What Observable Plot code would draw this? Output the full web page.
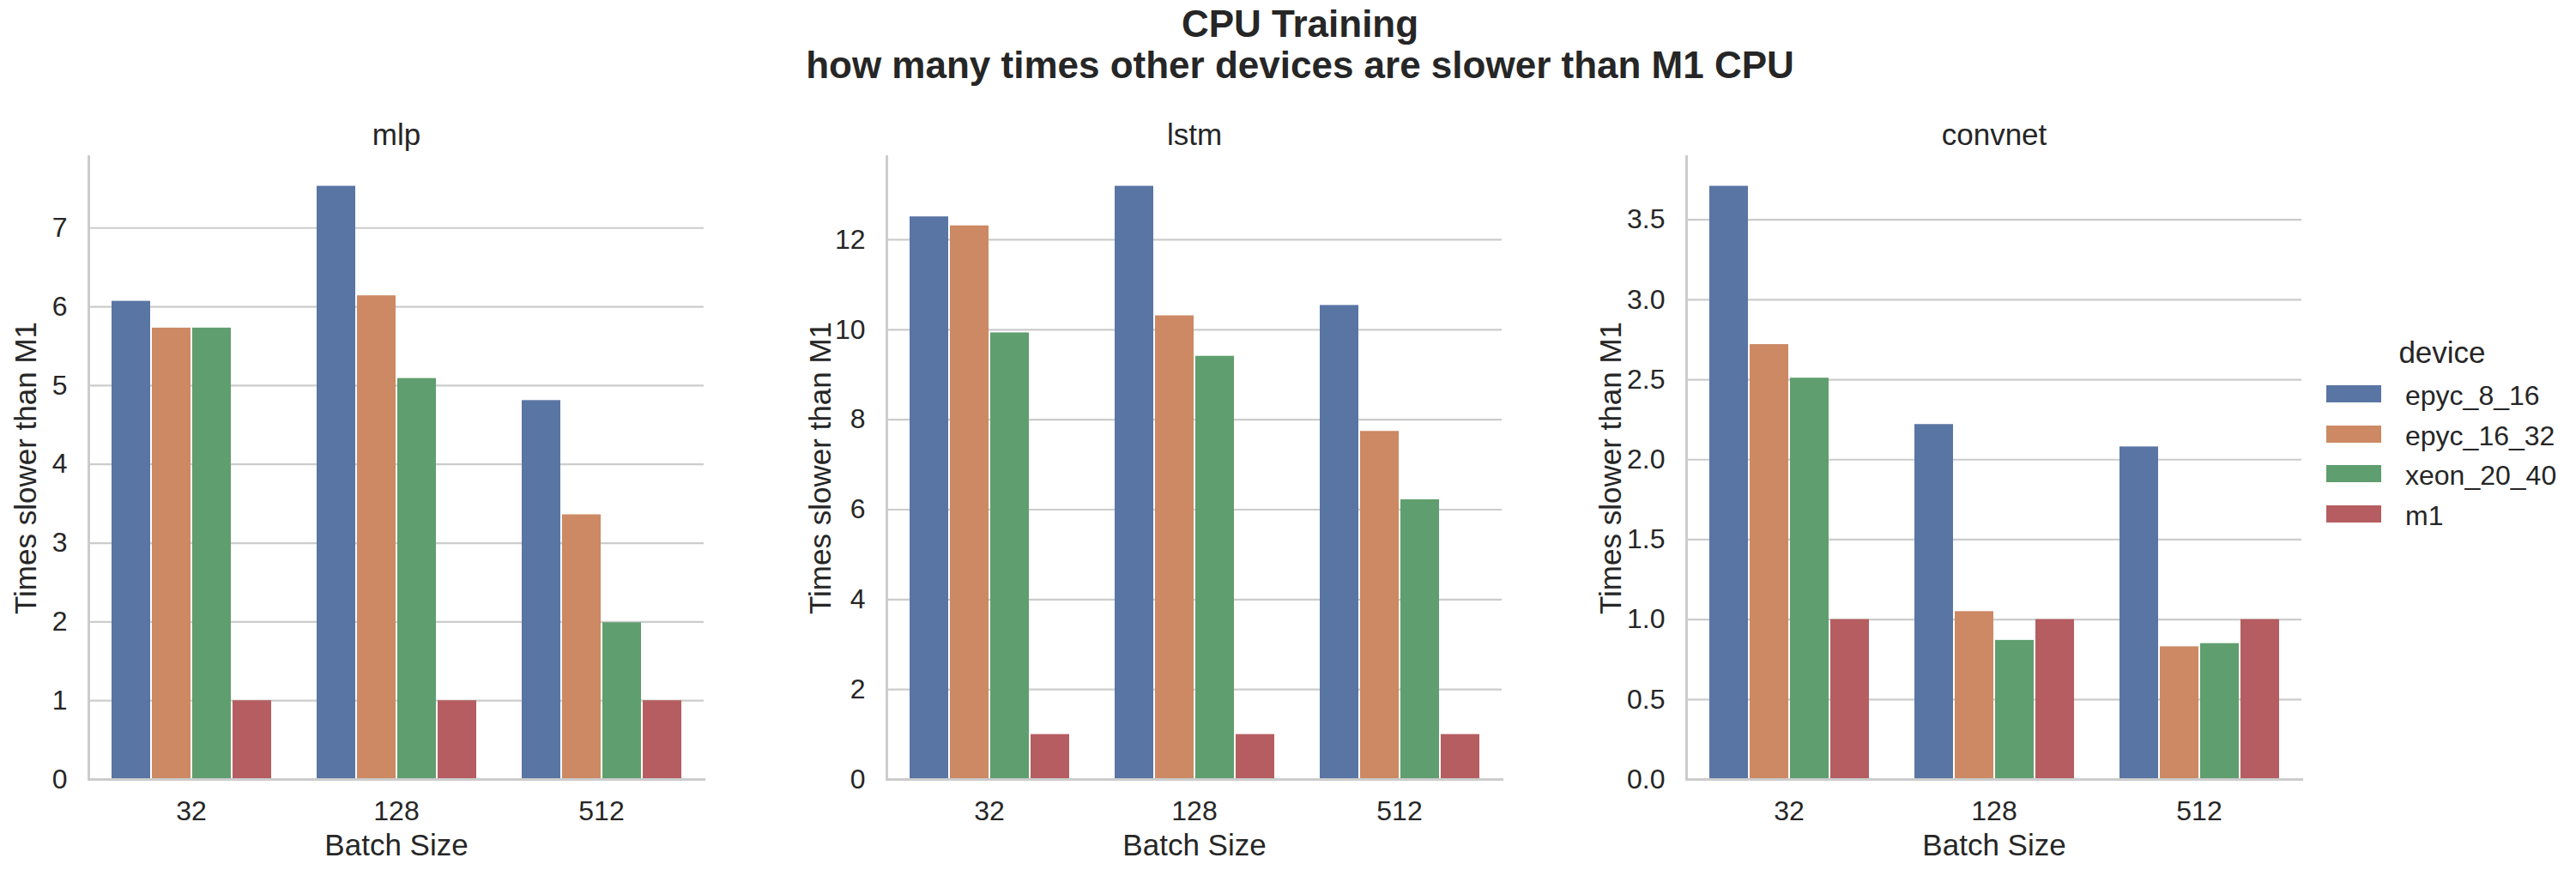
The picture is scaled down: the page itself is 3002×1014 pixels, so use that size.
<!DOCTYPE html>
<html><head><meta charset="utf-8">
<script src="https://cdn.jsdelivr.net/npm/d3@7"></script>
<script src="https://cdn.jsdelivr.net/npm/@observablehq/plot@0.6"></script>
<style>
html,body{margin:0;padding:0;background:#fff;overflow:hidden;}
#root{position:relative;width:3002px;height:1014px;font-family:"Liberation Sans",Arial,sans-serif;color:#262626;}
.abs{position:absolute;}
</style></head><body><div id="root"></div>
<script>
// ---- data ----
const models = ["mlp", "lstm", "convnet"];
const batchSizes = ["32", "128", "512"];
const devices = ["epyc_8_16", "epyc_16_32", "xeon_20_40", "m1"];
const deviceColors = ["#5975a4", "#cc8963", "#5f9e6e", "#b55d60"];
// rows: batch size (32, 128, 512); columns: device
const mlpValues = [[6.07, 5.73, 5.73, 1.00], [7.53, 6.14, 5.09, 1.00], [4.81, 3.36, 1.99, 1.00]];
const lstmValues = [[12.51, 12.31, 9.93, 1.00], [13.19, 10.31, 9.41, 1.00], [10.54, 7.74, 6.22, 1.00]];
const convnetValues = [[3.71, 2.72, 2.51, 1.00], [2.22, 1.05, 0.87, 1.00], [2.08, 0.83, 0.85, 1.00]];
const mlpTicks = [0, 1, 2, 3, 4, 5, 6, 7];
const lstmTicks = [0, 2, 4, 6, 8, 10, 12];
const convnetTicks = [0, 0.5, 1, 1.5, 2, 2.5, 3, 3.5];
const titleLines = ["CPU Training", "how many times other devices are slower than M1 CPU"];
const xLabel = "Batch Size";
const yLabel = "Times slower than M1";
const legendTitle = "device";

// ---- layout ----
const root = document.getElementById("root");
const ML = 100, MR = 20, MT = 82, MB = 106, FW = 717;
const W = ML + FW + MR, H = 914, TOP = 100;
const panelLefts = [103, 1033, 1965];
const yLabelOffsets = [73, 77, 88];
const GRID = "#cccccc";
const baseStyle = {background: "transparent", color: "#262626", fontFamily: "Liberation Sans, Arial, sans-serif", fontSize: "32px", overflow: "visible"};

function place(el, left, top, w, h) {
  const d = document.createElement("div");
  d.className = "abs";
  d.style.left = left + "px"; d.style.top = top + "px";
  d.style.width = w + "px"; d.style.height = h + "px";
  d.appendChild(el);
  root.appendChild(d);
}

function panel(i, values, ticks, fmt) {
  const rows = [];
  batchSizes.forEach((b, bi) => devices.forEach((dv, di) => rows.push({batch: b, device: dv, value: values[bi][di]})));
  const ymax = d3.max(rows, r => r.value) * 1.05;
  const common = {width: W, height: H, marginLeft: ML, marginRight: MR, marginTop: MT, marginBottom: MB, style: baseStyle};
  const back = Plot.plot({
    ...common,
    y: {domain: [0, ymax]},
    marks: [
      Plot.gridY(ticks, {stroke: GRID, strokeOpacity: 1, strokeWidth: 2.2}),
      Plot.frame({anchor: "left", stroke: GRID, strokeOpacity: 1, strokeWidth: 3}),
      Plot.frame({anchor: "bottom", stroke: GRID, strokeOpacity: 1, strokeWidth: 3}),
      Plot.axisY(ticks, {tickSize: 0, tickPadding: 25, tickFormat: fmt, label: null, fontSize: 32}),
      Plot.text([models[i]], {text: d => d, frameAnchor: "top", lineAnchor: "bottom", dy: -14, fontSize: 35}),
      Plot.text([xLabel], {text: d => d, frameAnchor: "bottom", lineAnchor: "bottom", dy: 88, fontSize: 35}),
      Plot.text([yLabel], {text: d => d, frameAnchor: "left", textAnchor: "middle", lineAnchor: "middle", rotate: -90, dx: -yLabelOffsets[i], fontSize: 35})
    ]
  });
  const front = Plot.plot({
    ...common,
    y: {domain: [0, ymax], axis: null},
    x: {domain: devices, padding: 0, axis: null},
    fx: {domain: batchSizes, paddingInner: 0.2, paddingOuter: 0.1, axis: "bottom", label: null, tickSize: 0, tickPadding: 25},
    color: {domain: devices, range: deviceColors},
    marks: [
      Plot.barY(rows, {fx: "batch", x: "device", y: "value", fill: "device", insetLeft: 1, insetRight: 1}),
      Plot.ruleY([0], {stroke: GRID, strokeWidth: 3})
    ]
  });
  const left = panelLefts[i] - ML;
  place(back, left, TOP, W, H);
  place(front, left, TOP, W, H);
}

panel(0, mlpValues, mlpTicks, d => d3.format("d")(d));
panel(1, lstmValues, lstmTicks, d => d3.format("d")(d));
panel(2, convnetValues, convnetTicks, d => d3.format(".1f")(d));

// ---- title ----
const t = document.createElement("div");
t.className = "abs";
Object.assign(t.style, {left: "515px", top: "4px", width: "2000px", textAlign: "center", fontWeight: "bold", fontSize: "44px", lineHeight: "48.4px", color: "#262626"});
titleLines.forEach(line => { const l = document.createElement("div"); l.textContent = line; t.appendChild(l); });
root.appendChild(t);

// ---- legend ----
const lt = document.createElement("div");
lt.className = "abs";
Object.assign(lt.style, {left: "2746px", top: "393px", width: "200px", textAlign: "center", fontSize: "35px", lineHeight: "35px"});
lt.textContent = legendTitle;
root.appendChild(lt);
const rowCenters = [459, 506, 552, 599];
devices.forEach((dv, i) => {
  const sw = document.createElement("div");
  sw.className = "abs";
  Object.assign(sw.style, {left: "2711px", top: (rowCenters[i] - 10) + "px", width: "64px", height: "20px", background: deviceColors[i]});
  root.appendChild(sw);
  const lb = document.createElement("div");
  lb.className = "abs";
  Object.assign(lb.style, {left: "2803px", top: (rowCenters[i] - 14.4) + "px", fontSize: "32px", lineHeight: "32px", whiteSpace: "nowrap"});
  lb.textContent = dv;
  root.appendChild(lb);
});
</script></body></html>
